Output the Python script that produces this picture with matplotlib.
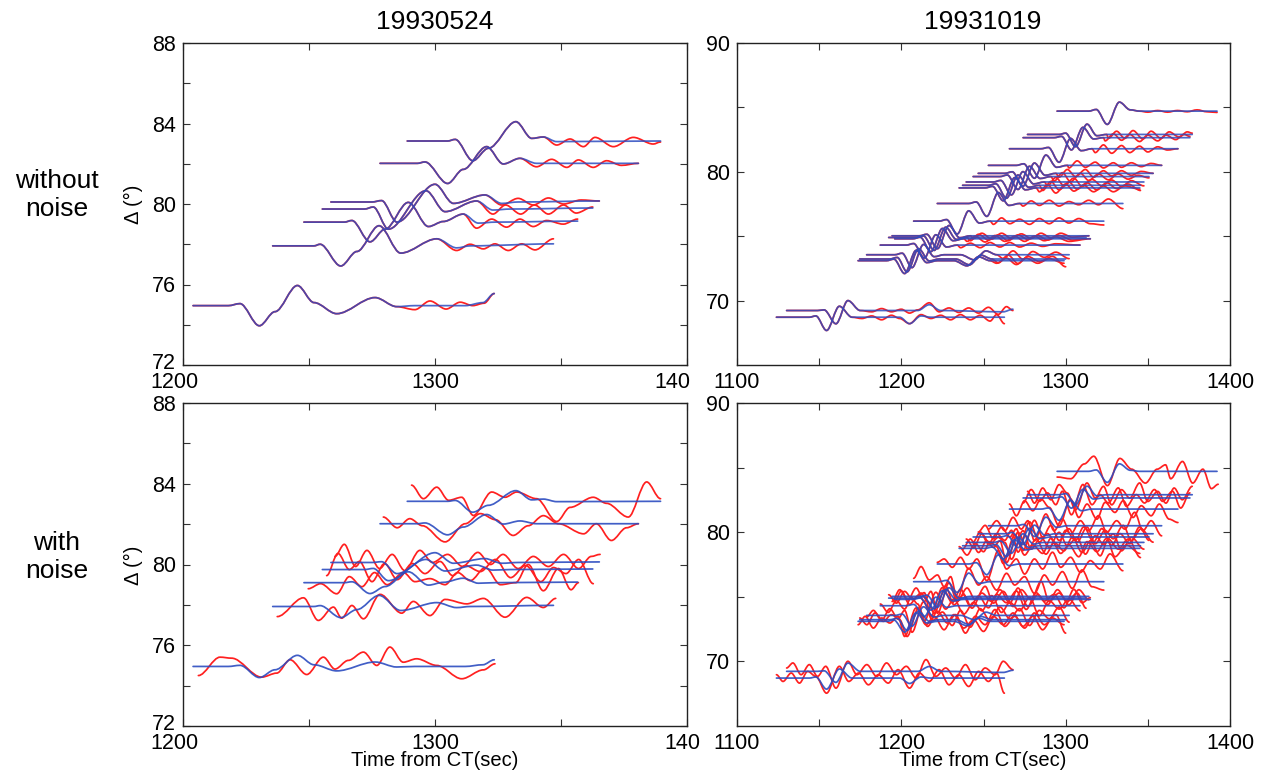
import matplotlib.pyplot as plt
import matplotlib.transforms as mtransforms
from matplotlib.path import Path
from matplotlib.patches import PathPatch

plt.rcParams['font.family'] = ['Liberation Sans', 'DejaVu Sans']

RED = '#ff2020'
BLUE = '#2c4cc0'

# ---------------- event 19930524 ----------------
ev1_delta = [74.95, 77.92, 79.10, 79.75, 80.10, 82.02, 83.13]

# synthetic (t, amplitude in deg)
ev1_syn = [
    [(1204, 0), (1218, 0), (1222.6, 0.1), (1230.3, -1.0), (1236.5, -0.3), (1245.4, 1.0), (1252, 0.15),
     (1261, -0.4), (1276.2, 0.4), (1284.8, -0.05), (1292, 0), (1312, 0), (1319, 0.15), (1323.5, 0.6)],
    [(1235.6, 0), (1252, 0), (1254.4, 0.08), (1262.6, -1.0), (1269, -0.28), (1277.8, 1.0), (1286.4, -0.36),
     (1300.7, 0.35), (1308.6, -0.1), (1314, 0), (1347, 0.1)],
    [(1248, 0), (1264, 0), (1267, 0.08), (1274.2, -0.98), (1280.2, -0.35), (1289.4, 0.98), (1297.4, -0.22),
     (1303.3, 0.03), (1311.2, 0.4), (1317.2, -0.05), (1324, 0), (1356.6, 0.05)],
    [(1255.3, 0), (1272, 0), (1275.5, 0.1), (1281.5, -1.0), (1296.4, 0.91), (1304, -0.13), (1316.5, 0.4),
     (1323, -0.05), (1330, 0), (1362.6, 0.05)],
    [(1258.7, 0), (1275, 0), (1278.8, 0.07), (1284.9, -1.0), (1300, 0.88), (1307.3, -0.07), (1319.8, 0.35),
     (1326.5, -0.07), (1333, 0), (1365.2, 0.05)],
    [(1278.2, 0), (1293, 0), (1296, 0.07), (1305, -1.0), (1311.2, -0.3), (1320.5, 0.83), (1327.1, -0.03),
     (1333.7, 0.25), (1340.3, 0), (1380.7, 0)],
    [(1289, 0), (1305, 0), (1308, 0.08), (1315, -0.98), (1321.2, -0.36), (1332.1, 0.96), (1338.4, 0.13),
     (1343, 0.2), (1348.3, -0.03), (1389.5, 0)],
]

# observed without noise: same as synthetic before the first tail time
ev1_obs_tail = [
    [(1292, -0.2), (1298, 0.23), (1304.4, -0.17), (1310, 0.17), (1315, 0.0), (1319.5, 0.12), (1323.5, 0.6)],
    [(1308.6, -0.23), (1313.9, 0.08), (1319.2, -0.15), (1323.8, 0.1), (1329.1, -0.23), (1334.4, 0.1),
     (1339.7, -0.2), (1347, 0.35)],
    [(1316.5, -0.3), (1322.5, 0.15), (1328.4, -0.25), (1333.7, 0.15), (1339, -0.22), (1344.3, 0.08),
     (1350.9, -0.1), (1356.6, 0.15)],
    [(1323, -0.25), (1328, 0.2), (1334, -0.25), (1339.5, 0.2), (1345, -0.25), (1351, 0.2), (1356, -0.2),
     (1362.6, 0.1)],
    [(1326.5, -0.15), (1333, 0.18), (1339, -0.15), (1345, 0.2), (1351, -0.1), (1358, 0.1), (1365.2, 0.05)],
    [(1340.3, -0.17), (1346.3, 0.2), (1352.3, -0.2), (1356.9, 0.17), (1362.8, -0.2), (1368.1, 0.13),
     (1374, -0.1), (1380.7, 0.0)],
    [(1348.3, -0.2), (1353.6, 0.1), (1358.9, -0.28), (1363.5, 0.18), (1370.8, -0.28), (1378.7, 0.18),
     (1386.6, -0.15), (1389.5, -0.05)],
]

# observed with noise
ev1_obs_noisy = [
    [(1206.1, -0.45), (1214.7, 0.46), (1219.3, 0.41), (1231.2, -0.53), (1237.2, -0.33), (1242.5, 0.33),
     (1249.1, -0.4), (1255.7, 0.46), (1260.3, -0.13), (1265.6, 0.3), (1271.6, 0.71), (1276.9, 0.05),
     (1282.1, 0.96), (1287.4, 0.21), (1292.7, 0.38), (1300.7, 0.05), (1310.6, -0.61), (1319.2, -0.17),
     (1323.8, 0.13)],
    [(1237.4, -0.5), (1247.8, 0.43), (1253.7, -0.69), (1259.7, -0.03), (1263, -0.58), (1267, 0.05),
     (1271.6, -0.61), (1278.2, 0.6), (1286.8, -0.33), (1291.4, 0.25), (1298, -0.45), (1304, 0.35),
     (1312.6, 0.13), (1319.2, 0.4), (1327.8, -0.53), (1336.4, 0.45), (1343, -0.05), (1347.9, 0.4)],
    [(1249.7, -0.3), (1254.6, -0.05), (1261, -0.55), (1266, 0.3), (1271, -0.2), (1276, 0.5), (1281, -0.1),
     (1287.5, 0.5), (1292, 0.05), (1298, 0.2), (1304, -0.1), (1309, 0.5), (1314, 0.1), (1320, 0.75),
     (1326, -0.1), (1332, 0.0), (1337, 0.9), (1343, -0.4), (1349, 0.7), (1354, -0.35), (1356.9, 0.0)],
    [(1257, -0.3), (1261.5, 0.8), (1266, 0.0), (1270, 0.4), (1275, -0.6), (1280, 0.3), (1285, -0.5),
     (1291, 0.3), (1296, -0.2), (1302, 0.4), (1307, -0.3), (1312, 0.2), (1318, -0.1), (1324, 0.5),
     (1330, -0.4), (1336, 0.2), (1342, -0.6), (1347, 0.1), (1352, -0.2), (1357, 0.5), (1362.8, -0.7)],
    [(1260.3, 0.3), (1264, 0.9), (1268.5, -0.2), (1273, 0.6), (1278, -0.3), (1283, 0.4), (1288, -0.4),
     (1294, 0.6), (1299, 0.0), (1305, 0.4), (1311, -0.2), (1317, 0.5), (1322, -0.1), (1327, 0.4),
     (1333, -0.3), (1339, 0.3), (1345, -0.2), (1351, 0.4), (1357, -0.3), (1362, 0.3), (1365.5, 0.4)],
    [(1279.5, 0.33), (1285, -0.2), (1290, 0.25), (1295, -0.1), (1304, -0.9), (1312, 0.0), (1318, 0.5),
     (1324, 0.2), (1331, -0.58), (1337, -0.1), (1343, 0.4), (1349, 0.0), (1359, -0.5), (1364, 0.0),
     (1370, -0.83), (1376, -0.2), (1380.7, 0.0)],
    [(1290.7, 0.8), (1295.4, 0.13), (1300.7, 0.7), (1305.4, 0.05), (1310.6, 0.2), (1315.2, -0.7),
     (1322.5, 0.46), (1327.8, 0.2), (1332.4, 0.46), (1340.3, 0.13), (1348.3, -1.0), (1353.6, -0.3),
     (1362.8, 0.2), (1368.1, -0.1), (1376.7, -0.78), (1384, 0.96), (1389.5, 0.13)],
]

# ---------------- event 19931019 ----------------
ev2_delta = [84.71, 82.90, 82.65, 81.79, 80.50, 79.88, 79.63, 79.21, 78.95, 78.75, 77.54, 76.17,
             75.03, 74.90, 74.80, 74.31, 73.56, 73.23, 73.10, 69.23, 68.71]

ev2_syn = [
    [(1294.8, 0), (1314, 0), (1318.6, 0.13), (1325.3, -1.03), (1332.7, 0.7), (1339.3, 0.1), (1345, 0), (1392.1, 0)],
    [(1276.8, 0), (1296, 0), (1300, 0.1), (1306, -0.95), (1313, 0.8), (1319, -0.1), (1325, 0), (1377, 0)],
    [(1274.1, 0), (1293, 0), (1297.5, 0.1), (1303.5, -0.95), (1310.5, 0.8), (1317, -0.1), (1323, 0), (1375.6, 0)],
    [(1265.8, 0), (1285, 0), (1289.5, 0.1), (1296, -1.05), (1303, 0.8), (1309.5, -0.15), (1316, 0), (1368.3, 0)],
    [(1253, 0), (1270, 0), (1274.5, 0.12), (1281, -1.0), (1288, 0.8), (1294.5, -0.15), (1301, 0), (1358.4, 0)],
    [(1246.8, 0), (1263, 0), (1267.5, 0.12), (1274, -1.0), (1281, 0.8), (1287.5, -0.15), (1294, 0), (1353.2, 0)],
    [(1243.7, 0), (1260, 0), (1264.5, 0.12), (1271, -1.0), (1278, 0.8), (1284.5, -0.15), (1291, 0), (1350.7, 0)],
    [(1239.5, 0), (1256, 0), (1260.5, 0.12), (1267, -1.0), (1274, 0.8), (1280.5, -0.15), (1287, 0), (1347.6, 0)],
    [(1237.3, 0), (1253, 0), (1257.5, 0.12), (1264, -1.0), (1271, 0.8), (1277.5, -0.15), (1284, 0), (1345.5, 0)],
    [(1235.2, 0), (1251, 0), (1255.5, 0.12), (1262, -1.0), (1269, 0.8), (1275.5, -0.15), (1282, 0), (1345.1, 0)],
    [(1221.9, 0), (1241, 0), (1245.5, 0.12), (1252, -1.0), (1259, 0.85), (1265.5, -0.15), (1272, 0), (1334.8, 0)],
    [(1207.5, 0), (1223, 0), (1227.5, 0.12), (1234, -1.0), (1241, 0.8), (1247.5, -0.15), (1254, 0), (1323.2, 0)],
    [(1194.4, 0), (1211, 0), (1215.5, 0.12), (1222, -1.0), (1229, 0.8), (1235.5, -0.15), (1242, 0), (1314.1, 0)],
    [(1192.3, 0), (1209, 0), (1213.5, 0.12), (1220, -1.0), (1227, 0.8), (1233.5, -0.15), (1240, 0), (1312.4, 0)],
    [(1196, 0), (1207, 0), (1211.5, 0.12), (1218, -1.0), (1225, 0.8), (1231.5, -0.15), (1238, 0), (1315, 0)],
    [(1187.2, 0), (1203, 0), (1207.5, 0.12), (1214, -1.0), (1221, 0.8), (1227.5, -0.15), (1234, 0), (1308.7, 0)],
    [(1178.9, 0), (1196, 0), (1200.5, 0.12), (1206.5, -1.0), (1213.5, 0.8), (1220, -0.15), (1226, 0),
     (1236, 0), (1244.5, -0.4), (1251.5, 0.3), (1258, 0), (1302.1, 0)],
    [(1174.7, 0), (1193, 0), (1197.5, 0.12), (1203.5, -1.0), (1210.5, 0.8), (1217, -0.15), (1223, 0),
     (1233, 0), (1241.5, -0.45), (1248.5, 0.3), (1255, 0), (1300, 0)],
    [(1173.7, 0), (1191, 0), (1195.5, 0.12), (1202, -1.0), (1209, 0.8), (1215.5, -0.15), (1222, 0),
     (1232, 0), (1240, -0.4), (1247, 0.3), (1254, 0), (1299, 0)],
    [(1130.2, 0), (1149, 0), (1153, 0.05), (1160.2, -1.03), (1167.5, 0.77), (1175, 0), (1210, 0),
     (1217, 0.45), (1224, 0), (1262, -0.1), (1267.9, 0.1)],
    [(1124, 0), (1144, 0), (1148, 0.1), (1154.5, -1.03), (1162.3, 0.85), (1170, 0), (1199, 0),
     (1205, -0.5), (1212, 0.1), (1218, 0), (1262.7, 0)],
]

ev2_obs_tail = [
    [(1350, -0.08), (1356, 0.05), (1362, -0.08), (1368, 0.05), (1374, -0.05), (1380, 0.1), (1386, -0.05), (1392.1, -0.1)],
    [(1326, -0.3), (1331, 0.25), (1336, -0.3), (1341, 0.3), (1347, -0.35), (1352, 0.25), (1358, -0.3), (1363, 0.2),
     (1369, -0.2), (1374, 0.2), (1377, 0.1)],
    [(1324, -0.25), (1329, 0.3), (1334, -0.2), (1339, 0.25), (1345, -0.3), (1350, 0.2), (1356, -0.25), (1361, 0.2),
     (1367, -0.15), (1372, 0.25), (1375.6, 0.1)],
    [(1318, -0.3), (1323, 0.3), (1328, -0.35), (1334, 0.25), (1339, -0.3), (1345, 0.2), (1350, -0.25), (1356, 0.15),
     (1362, -0.1), (1368.3, 0)],
    [(1302, -0.2), (1307, 0.35), (1312, -0.15), (1318, 0.25), (1323, -0.2), (1329, 0.2), (1334, -0.15), (1340, 0.2),
     (1346, -0.1), (1352, 0.15), (1358.4, 0)],
    [(1296, -0.3), (1301, 0.3), (1306, -0.25), (1312, 0.3), (1317, -0.3), (1323, 0.2), (1328, -0.2), (1334, 0.2),
     (1340, -0.15), (1346, 0.15), (1353.2, 0)],
    [(1293, -0.35), (1298, 0.3), (1303, -0.4), (1309, 0.25), (1314, -0.3), (1320, 0.2), (1326, -0.25), (1332, 0.2),
     (1338, -0.2), (1344, 0.1), (1350.7, -0.1)],
    [(1289, -0.3), (1294, 0.35), (1299, -0.3), (1305, 0.3), (1310, -0.35), (1316, 0.2), (1322, -0.3), (1328, 0.15),
     (1334, -0.35), (1340, 0.1), (1347.6, -0.3)],
    [(1286, -0.4), (1291, 0.3), (1296, -0.35), (1302, 0.25), (1307, -0.3), (1313, 0.2), (1319, -0.35), (1325, 0.2),
     (1331, -0.25), (1338, 0.1), (1345.5, -0.4)],
    [(1284, -0.3), (1289, 0.25), (1294, -0.4), (1300, 0.3), (1305, -0.25), (1311, 0.2), (1317, -0.3), (1323, 0.15),
     (1329, -0.3), (1336, 0.15), (1345.1, -0.1)],
    [(1274, -0.2), (1279, 0.2), (1284, -0.15), (1290, 0.25), (1296, -0.2), (1302, 0.15), (1308, -0.1), (1314, 0.25),
     (1320, -0.1), (1326, 0.35), (1334.8, -0.4)],
    [(1256, -0.25), (1261, 0.25), (1266, -0.2), (1272, 0.15), (1278, -0.25), (1284, 0.2), (1290, -0.2), (1296, 0.25),
     (1302, -0.15), (1308, 0.2), (1315, -0.2), (1323.2, -0.3)],
    [(1244, -0.2), (1249, 0.2), (1255, -0.25), (1261, 0.2), (1267, -0.2), (1273, 0.15), (1279, -0.2), (1285, 0.2),
     (1291, -0.15), (1297, 0.2), (1304, -0.1), (1314.1, 0)],
    [(1242, -0.25), (1247, 0.25), (1253, -0.2), (1259, 0.2), (1265, -0.25), (1271, 0.2), (1277, -0.15), (1283, 0.15),
     (1289, -0.2), (1296, 0.15), (1304, -0.2), (1312.4, -0.1)],
    [(1240, -0.2), (1245, 0.2), (1251, -0.25), (1257, 0.25), (1263, -0.2), (1269, 0.2), (1275, -0.2), (1281, 0.2),
     (1287, -0.15), (1294, 0.15), (1302, -0.2), (1315, 0)],
    [(1236, -0.2), (1242, 0.15), (1248, -0.2), (1254, 0.2), (1260, -0.15), (1266, 0.2), (1272, -0.15), (1279, 0.15),
     (1286, -0.1), (1294, 0.1), (1308.7, 0)],
    [(1262, -0.3), (1268, 0.3), (1274, -0.35), (1280, 0.25), (1287, -0.2), (1294, 0.2), (1302.1, -0.3)],
    [(1259, -0.3), (1265, 0.3), (1271, -0.35), (1277, 0.2), (1284, -0.2), (1292, 0.2), (1300, -0.6)],
    [(1258, -0.2), (1264, 0.2), (1270, -0.3), (1276, 0.2), (1283, -0.2), (1290, 0.15), (1299, -0.2)],
    [(1182, -0.1), (1188, 0.15), (1194, -0.1), (1200, 0.1), (1205, -0.2), (1210, 0.05), (1217, 0.6), (1223, -0.1),
     (1229, 0.2), (1235, -0.15), (1241, 0.2), (1247, -0.2), (1253, 0.25), (1259, -0.3), (1264, 0.3), (1267.9, 0.0)],
    [(1176, -0.1), (1182, 0.1), (1188, -0.2), (1194, 0.15), (1199, -0.1), (1205, -0.5), (1212, 0.2), (1218, -0.1),
     (1224, 0.15), (1230, -0.2), (1236, 0.2), (1242, -0.2), (1248, 0.15), (1254, -0.3), (1258, 0.2), (1262.7, -0.5)],
]

ev2_obs_noisy = [
    [(1294.8, -0.34), (1303.1, -0.44), (1311.3, 0.44), (1317.1, 0.9), (1325.4, -0.85), (1333, 0.77), (1340.2, 0.13),
     (1348.5, -0.7), (1355.7, 0.13), (1360.8, 0.39), (1363.9, -0.44), (1371.1, 0.59), (1377.3, -0.7),
     (1383.5, 0.13), (1388.7, -1.03), (1392.8, -0.77)],
    [(1276.8, 0.2), (1281, -0.5), (1286, 0.4), (1291, -0.3), (1296, 0.6), (1301, 0.1), (1306, -0.9), (1313, 0.7),
     (1318, -0.2), (1323, 0.5), (1328, -0.6), (1334, 0.3), (1339, -0.2), (1345, 0.7), (1350, -0.4), (1356, 0.2),
     (1361, -0.5), (1366, 0.4), (1371, -0.3), (1377, 0.5)],
    [(1274.1, -0.3), (1279, 0.5), (1284, -0.2), (1289, 0.3), (1294, -0.4), (1298, 0.4), (1303.5, -1.0), (1310.5, 0.8),
     (1316, -0.4), (1321, 0.2), (1326, -0.3), (1332, 0.6), (1337, -0.5), (1343, 0.2), (1348, -0.3), (1354, 0.5),
     (1359, -0.2), (1365, 0.4), (1370, -0.6), (1375.6, 0.3)],
    [(1265.8, 0.3), (1270, -0.4), (1275, 0.5), (1280, -0.1), (1285, 0.6), (1290, 0.1), (1296, -1.0), (1303, 0.6),
     (1308, -0.5), (1313, 0.3), (1319, -0.6), (1324, 0.4), (1330, -0.2), (1335, 0.5), (1341, -0.5), (1346, 0.2),
     (1352, -0.4), (1357, 0.3), (1363, -0.6), (1368.3, -0.8)],
    [(1253, -0.2), (1258, 0.3), (1263, -0.3), (1268, 0.5), (1273, -0.2), (1277, 0.3), (1281, -0.9), (1288, 0.7),
     (1293, -0.3), (1298, 0.4), (1303, -0.5), (1309, 0.3), (1314, -0.3), (1320, 0.6), (1325, -0.4), (1331, 0.3),
     (1336, -0.2), (1342, 0.8), (1347, -0.3), (1352, 0.3), (1358.4, -0.6)],
    [(1246.8, 0.1), (1251, 0.5), (1256, -0.3), (1261, 0.4), (1266, -0.2), (1270, 0.3), (1274, -1.0), (1281, 0.8),
     (1286, -0.2), (1291, 0.5), (1296, -0.4), (1302, 0.3), (1307, -0.5), (1313, 0.4), (1318, -0.6), (1324, 0.2),
     (1329, -0.3), (1335, 0.5), (1340, -0.4), (1346, 0.3), (1353.2, -0.5)],
    [(1243.7, -0.3), (1248, 0.3), (1253, -0.4), (1258, 0.2), (1263, -0.2), (1267, 0.4), (1271, -0.9), (1278, 0.9),
     (1284, -0.3), (1289, 0.2), (1295, -0.6), (1300, 0.4), (1306, -0.2), (1311, 0.6), (1317, -0.3), (1322, 0.5),
     (1328, -0.5), (1333, 0.2), (1339, -0.4), (1345, 0.6), (1350.7, -0.2)],
    [(1239.5, 0.2), (1244, -0.3), (1249, 0.5), (1254, -0.1), (1259, 0.3), (1263, 0.0), (1267, -1.0), (1274, 0.7),
     (1279, -0.4), (1285, 0.3), (1290, -0.3), (1296, 0.6), (1301, -0.2), (1307, 0.3), (1312, -0.7), (1318, 0.4),
     (1323, -0.1), (1329, 0.5), (1334, -0.5), (1340, 0.3), (1347.6, -0.4)],
    [(1237.3, -0.2), (1242, 0.4), (1247, -0.4), (1252, 0.3), (1256, -0.1), (1260, 0.3), (1264, -1.0), (1271, 0.8),
     (1277, -0.2), (1282, 0.4), (1288, -0.5), (1293, 0.2), (1299, -0.3), (1304, 0.5), (1310, -0.4), (1315, 0.3),
     (1321, -0.6), (1326, 0.4), (1332, -0.2), (1338, 0.4), (1345.5, -0.7)],
    [(1235.2, 0.1), (1240, -0.4), (1245, 0.3), (1250, -0.2), (1254, 0.4), (1258, 0.1), (1262, -0.9), (1269, 0.8),
     (1275, -0.4), (1280, 0.2), (1286, -0.3), (1291, 0.6), (1297, -0.3), (1302, 0.2), (1308, -0.5), (1313, 0.4),
     (1319, -0.2), (1325, 0.6), (1330, -0.5), (1337, 0.2), (1345.1, -0.3)],
    [(1221.9, 0.1), (1226, 0.3), (1231, -0.2), (1236, 0.4), (1241, -0.3), (1246, 0.3), (1252, -1.0), (1259, 0.8),
     (1264, -0.3), (1270, 0.3), (1275, -0.6), (1281, 0.3), (1286, -0.3), (1292, 0.7), (1297, -0.2), (1303, 0.4),
     (1309, -0.5), (1315, 0.2), (1321, -0.3), (1327, 0.6), (1334.8, -0.4)],
    [(1207.5, 0.2), (1212, 0.9), (1217, 0.1), (1222, 0.4), (1226, -0.3), (1230, 0.3), (1234, -1.0), (1241, 0.8),
     (1247, -0.2), (1252, 0.3), (1258, -0.5), (1264, 0.5), (1269, -0.2), (1275, 0.3), (1281, -0.7), (1287, 0.4),
     (1292, -0.2), (1298, 0.6), (1304, -0.4), (1310, 0.7), (1316, -0.3), (1323.2, -0.5)],
    [(1194.4, -0.3), (1199, 0.4), (1204, -0.2), (1209, 0.5), (1214, -0.3), (1218, 0.3), (1222, -1.0), (1229, 0.8),
     (1234, -0.3), (1240, 0.5), (1245, -0.2), (1251, 0.6), (1256, -0.4), (1262, 0.3), (1268, -0.6), (1273, 0.4),
     (1279, -0.2), (1285, 0.9), (1290, -0.3), (1296, 0.2), (1302, -0.5), (1308, 0.4), (1314.1, -0.2)],
    [(1192.3, 0.2), (1197, -0.3), (1202, 0.4), (1207, -0.1), (1212, 0.3), (1216, -0.2), (1220, -0.9), (1227, 0.7),
     (1232, -0.4), (1238, 0.2), (1243, -0.6), (1249, 0.3), (1255, -0.2), (1260, 0.5), (1266, -0.3), (1271, 0.6),
     (1277, -0.5), (1283, 0.2), (1289, -0.4), (1295, 0.5), (1301, -0.2), (1307, 0.3), (1312.4, -0.6)],
    [(1196, -0.1), (1200, 0.5), (1205, -0.3), (1210, 0.2), (1214, 0.4), (1218, -1.0), (1225, 0.7), (1231, -0.2),
     (1236, 0.6), (1242, -0.4), (1247, 0.2), (1253, -0.5), (1258, 0.3), (1264, -0.2), (1270, 0.5), (1276, -0.6),
     (1282, 0.4), (1287, -0.1), (1293, 0.3), (1299, -0.5), (1305, 0.6), (1310, -0.2), (1315, 0.1)],
    [(1187.2, 0.1), (1192, -0.4), (1197, 0.3), (1202, -0.2), (1206, 0.5), (1210, 0.1), (1214, -0.9), (1221, 0.8),
     (1227, -0.2), (1232, 0.4), (1238, -0.5), (1244, 0.2), (1249, -0.3), (1255, 0.6), (1261, -0.4), (1266, 0.2),
     (1272, -0.3), (1278, 0.5), (1284, -0.6), (1290, 0.3), (1296, -0.2), (1302, 0.4), (1308.7, -0.3)],
    [(1178.9, -0.1), (1183, 0.3), (1188, -0.3), (1193, 0.4), (1198, -0.2), (1202, 0.3), (1206.5, -1.0), (1213.5, 0.8),
     (1219, -0.3), (1225, 0.2), (1231, -0.6), (1236, 0.3), (1242, -0.7), (1248, 0.4), (1254, -0.3), (1260, 0.5),
     (1266, -0.2), (1272, 0.4), (1278, -0.6), (1284, 0.3), (1290, -0.2), (1296, 0.5), (1302.1, -0.4)],
    [(1174.7, 0.1), (1179, -0.3), (1184, 0.4), (1189, -0.1), (1194, 0.3), (1199, 0.0), (1203.5, -1.0), (1210.5, 0.7),
     (1216, -0.4), (1222, 0.5), (1228, -0.2), (1233, 0.3), (1239, -0.8), (1245, 0.2), (1251, -0.3), (1257, 0.6),
     (1263, -0.4), (1269, 0.2), (1275, -0.5), (1281, 0.4), (1287, -0.3), (1294, 0.3), (1300, -0.8)],
    [(1173.7, -0.2), (1178, 0.3), (1183, -0.4), (1188, 0.2), (1193, -0.1), (1198, 0.3), (1202, -0.9), (1209, 0.8),
     (1215, -0.2), (1220, 0.3), (1226, -0.5), (1232, 0.4), (1238, -0.4), (1244, 0.1), (1250, -0.6), (1256, 0.3),
     (1262, -0.2), (1268, 0.5), (1274, -0.3), (1280, 0.3), (1286, -0.5), (1292, 0.2), (1299, -0.2)],
    [(1130.2, 0.2), (1134, 0.5), (1139, -0.2), (1144, 0.4), (1149, -0.3), (1154, 0.3), (1160.2, -1.0), (1167.5, 0.6),
     (1173, -0.2), (1179, 0.4), (1185, -0.3), (1191, 0.5), (1197, -0.2), (1203, 0.3), (1209, -0.4), (1215, 0.7),
     (1221, -0.3), (1227, 0.2), (1233, -0.4), (1239, 0.4), (1245, -0.5), (1251, 0.2), (1257, -0.2), (1262, 0.6),
     (1267.9, 0.1)],
    [(1124, 0.2), (1128, -0.2), (1133, 0.3), (1138, -0.3), (1143, 0.4), (1148, 0.1), (1154.5, -0.9), (1162.3, 0.7),
     (1168, -0.2), (1174, 0.3), (1180, -0.4), (1186, 0.2), (1192, -0.3), (1198, 0.5), (1205, -0.6), (1211, 0.3),
     (1217, -0.2), (1223, 0.5), (1229, -0.4), (1235, 0.2), (1241, -0.5), (1247, 0.4), (1253, -0.2), (1258, 0.3),
     (1262.7, -0.9)],
]


def trace(ax, knots, base, gain, color, lw=1.25, alpha=1.0, z=2):
    # smooth curve through the read extrema, flat tangents at each knot
    verts = [(knots[0][0], base + gain * knots[0][1])]
    codes = [Path.MOVETO]
    for (t0, a0), (t1, a1) in zip(knots[:-1], knots[1:]):
        d = (t1 - t0) / 3.0
        verts += [(t0 + d, base + gain * a0), (t1 - d, base + gain * a1), (t1, base + gain * a1)]
        codes += [Path.CURVE4] * 3
    ax.add_patch(PathPatch(Path(verts, codes), fill=False, edgecolor=color, lw=lw,
                           alpha=alpha, zorder=z, capstyle='round', joinstyle='round'))


def style(ax, xlim, ylim, xmaj, xlab, xmin, ymaj, ymin):
    ax.set_xlim(xlim)
    ax.set_ylim(ylim)
    ax.set_xticks(xmaj)
    ax.set_xticklabels(xlab)
    ax.set_xticks(xmin, minor=True)
    ax.set_yticks(ymaj)
    ax.set_yticks(ymin, minor=True)
    ax.tick_params(which='both', direction='in', top=True, right=True, length=5, width=0.8,
                   color='#333333', labelsize=15.5, pad=5)
    for s in ax.spines.values():
        s.set_linewidth(1.0)
        s.set_color('#222222')


def nudge(label, dx, dy):
    label.set_transform(label.get_transform() + mtransforms.ScaledTranslation(dx / 100, dy / 100, fig.dpi_scale_trans))


W, H = 1276, 783
fig = plt.figure(figsize=(W / 100, H / 100), dpi=100)

ax_tl = fig.add_axes([183 / W, 1 - 365 / H, 504 / W, 322 / H])
ax_bl = fig.add_axes([183 / W, 1 - 726 / H, 504 / W, 323 / H])
ax_tr = fig.add_axes([737 / W, 1 - 365 / H, 493 / W, 322 / H])
ax_br = fig.add_axes([737 / W, 1 - 726 / H, 493 / W, 323 / H])

left_args = ((1200, 1400), (72, 88), [1200, 1300, 1400], ['1200', '1300', '140'], [1250, 1350],
             [72, 76, 80, 84, 88], [74, 78, 82, 86])
right_args = ((1100, 1397), (65, 90), [1100, 1200, 1300, 1400], ['1100', '1200', '1300', '1400'],
              [1150, 1250, 1350], [70, 80, 90], [75, 85])

for ax in (ax_tl, ax_bl):
    style(ax, *left_args)
    # keep the corner labels apart as in the original layout
    nudge(ax.get_yticklabels()[0], 0, 4)
    nudge(ax.get_xticklabels()[0], -9, 0)
nudge(ax_tl.get_xticklabels()[2], -15, 0)
nudge(ax_bl.get_xticklabels()[2], -5, 0)
for ax in (ax_tr, ax_br):
    style(ax, *right_args)

# without noise
for base, syn, tail in zip(ev1_delta, ev1_syn, ev1_obs_tail):
    obs = [k for k in syn if k[0] < tail[0][0]] + tail
    trace(ax_tl, obs, base, 1.0, RED, z=2)
    trace(ax_tl, syn, base, 1.0, BLUE, alpha=0.85, z=3)
for base, syn, tail in zip(ev2_delta, ev2_syn, ev2_obs_tail):
    obs = [k for k in syn if k[0] < tail[0][0]] + tail
    trace(ax_tr, obs, base, 1.0, RED, z=2)
    trace(ax_tr, syn, base, 1.0, BLUE, alpha=0.85, z=3)

# with noise
for base, syn, noisy in zip(ev1_delta, ev1_syn, ev1_obs_noisy):
    trace(ax_bl, noisy, base, 1.0, RED, z=2)
    trace(ax_bl, syn, base, 0.55, BLUE, alpha=0.9, z=3)
for base, syn, noisy in zip(ev2_delta, ev2_syn, ev2_obs_noisy):
    trace(ax_br, noisy, base, 1.3, RED, z=2)
    trace(ax_br, syn, base, 0.83, BLUE, alpha=0.9, z=3)

fig.text(435 / W, 1 - 22 / H, '19930524', ha='center', va='center', fontsize=19)
fig.text(983 / W, 1 - 22 / H, '19931019', ha='center', va='center', fontsize=19)
fig.text(57 / W, 1 - 195 / H, 'without\nnoise', ha='center', va='center', fontsize=19, linespacing=1.25)
fig.text(57 / W, 1 - 557 / H, 'with\nnoise', ha='center', va='center', fontsize=19, linespacing=1.25)
fig.text(133 / W, 1 - 204 / H, 'Δ (°)', rotation=90, ha='center', va='center', fontsize=14.5)
fig.text(133 / W, 1 - 565 / H, 'Δ (°)', rotation=90, ha='center', va='center', fontsize=14.5)
fig.text(435 / W, 1 - 761 / H, 'Time from CT(sec)', ha='center', va='center', fontsize=14.5)
fig.text(983 / W, 1 - 761 / H, 'Time from CT(sec)', ha='center', va='center', fontsize=14.5)

fig.savefig('out.png', dpi=100)
